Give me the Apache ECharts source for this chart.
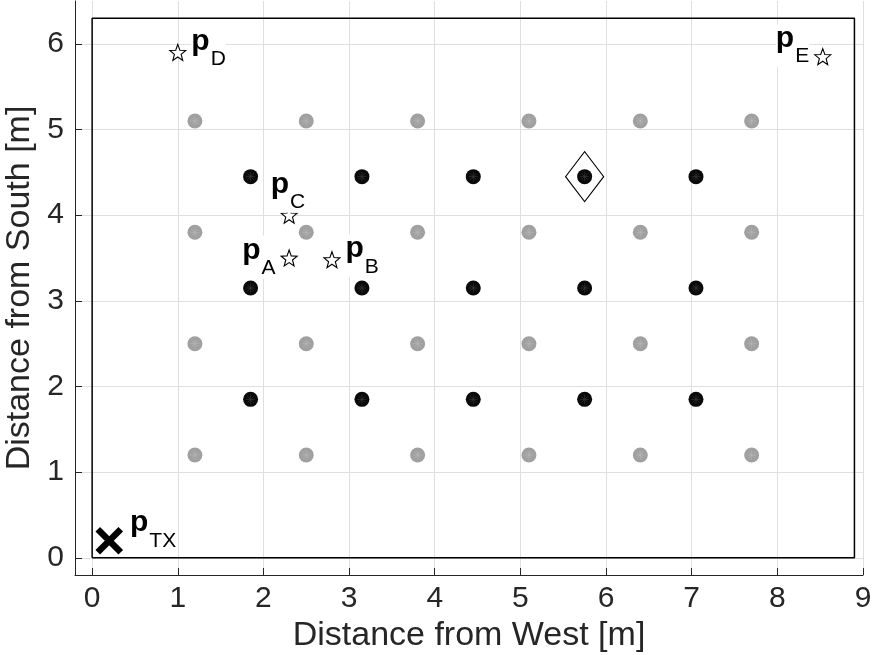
<!DOCTYPE html>
<html>
<head>
<meta charset="utf-8">
<title>Room layout</title>
<script src="https://cdn.jsdelivr.net/npm/echarts@6/dist/echarts.min.js"></script>
<style>
  html, body { margin: 0; padding: 0; background: #fff; }
  #chart { width: 872px; height: 655px; }
</style>
</head>
<body>
<div id="chart"></div>
<script>
// Axis ticks
const xTicks = [0, 1, 2, 3, 4, 5, 6, 7, 8, 9];
const yTicks = [0, 1, 2, 3, 4, 5, 6];

// Room outline size [m]
const roomWidth = 8.9;
const roomDepth = 6.3;

// Grey grid of positions
const greyX = [1.2, 2.5, 3.8, 5.1, 6.4, 7.7];
const greyY = [1.2, 2.5, 3.8, 5.1];

// Black grid of positions
const blackX = [1.85, 3.15, 4.45, 5.75, 7.05];
const blackY = [1.85, 3.15, 4.45];

// Highlighted position (diamond)
const selectedPos = [5.75, 4.45];

// Named test points p_A .. p_E
const pointNames = ['A', 'B', 'C', 'D', 'E'];
const pointX = [2.3, 2.8, 2.3, 1.0, 8.53];
const pointY = [3.5, 3.48, 4.0, 5.9, 5.85];

// Transmitter
const txName = 'TX';
const txPos = [0.2, 0.2];

// ---------------------------------------------------------------
const FONT = '"Liberation Sans", Arial, Helvetica, sans-serif';
const INK = '#262626';

function gridPoints(xs, ys) {
  const pts = [];
  ys.forEach(y => xs.forEach(x => pts.push([x, y])));
  return pts;
}

// five-pointed star outline
function starPath() {
  const pts = [];
  for (let i = 0; i < 10; i++) {
    const r = i % 2 === 0 ? 1 : 0.42;
    const a = -Math.PI / 2 + i * Math.PI / 5;
    pts.push((r * Math.cos(a)).toFixed(4) + ',' + (r * Math.sin(a)).toFixed(4));
  }
  return 'path://M' + pts.join('L') + 'Z';
}

const spokes = 'path://M0,-1L0,1M-1,0L1,0M-0.7,-0.7L0.7,0.7M-0.7,0.7L0.7,-0.7';

// label placement per point name
const labelPlacement = {
  A: { position: 'left', offset: [0, -1] },
  B: { position: 'right', offset: [0, -4] },
  C: { position: 'right', offset: [-32, -24] },
  D: { position: 'right', offset: [0, -4] },
  E: { position: 'left', offset: [0, -11] },
  TX: { position: 'right', offset: [1, -11] }
};

const richStyles = {
  p: { fontFamily: FONT, fontSize: 30, fontWeight: 'bold', color: '#000', lineHeight: 30, verticalAlign: 'top' },
  s: { fontFamily: FONT, fontSize: 21, color: '#000', lineHeight: 43, verticalAlign: 'bottom', padding: [0, 0, 0, 1] }
};

function pointLabel(name) {
  const pl = labelPlacement[name];
  return {
    show: true,
    position: pl.position,
    distance: 5,
    offset: pl.offset,
    formatter: '{p|p}{s|' + name + '}',
    backgroundColor: '#fff',
    color: '#000',
    rich: richStyles
  };
}

const namedPoints = pointNames.map((n, i) => ({
  name: n,
  value: [pointX[i], pointY[i]],
  label: pointLabel(n)
}));

const chart = echarts.init(document.getElementById('chart'), null, { renderer: 'canvas' });

chart.setOption({
  animation: false,
  backgroundColor: '#fff',
  grid: { left: 75, right: 9, top: 1, bottom: 80, containLabel: false, outerBoundsMode: 'none' },
  xAxis: {
    type: 'value',
    min: -0.2,
    max: 9.0,
    name: 'Distance from West [m]',
    nameLocation: 'middle',
    nameGap: 34,
    nameTextStyle: { fontFamily: FONT, fontSize: 34, color: INK },
    axisLine: { show: true, onZero: false, lineStyle: { color: INK, width: 1 } },
    axisTick: { show: true, inside: true, length: 7, customValues: xTicks, lineStyle: { color: INK, width: 1 } },
    axisLabel: { customValues: xTicks, fontFamily: FONT, fontSize: 30, color: INK, margin: 9 },
    splitLine: { show: true, lineStyle: { color: '#dfdfdf', width: 1 } }
  },
  yAxis: {
    type: 'value',
    min: -0.2,
    max: 6.5,
    name: 'Distance from South [m]',
    nameLocation: 'middle',
    nameGap: 37,
    nameTextStyle: { fontFamily: FONT, fontSize: 34, color: INK },
    axisLine: { show: true, onZero: false, lineStyle: { color: INK, width: 1 } },
    axisTick: { show: true, inside: true, length: 7, customValues: yTicks, lineStyle: { color: INK, width: 1 } },
    axisLabel: { customValues: yTicks, fontFamily: FONT, fontSize: 30, color: INK, margin: 11 },
    splitLine: { show: true, lineStyle: { color: '#dfdfdf', width: 1 } }
  },
  series: [
    {
      name: 'room',
      type: 'line',
      data: [[0, 0], [roomWidth, 0], [roomWidth, roomDepth], [0, roomDepth], [0, 0]],
      symbol: 'none',
      lineStyle: { color: '#000', width: 1.5 },
      z: 2
    },
    {
      name: 'grey',
      type: 'scatter',
      data: gridPoints(greyX, greyY),
      symbol: 'circle',
      symbolSize: 15,
      itemStyle: { color: '#a0a0a0', opacity: 1 },
      z: 3
    },
    {
      name: 'grey detail',
      type: 'scatter',
      data: gridPoints(greyX, greyY),
      symbol: spokes,
      symbolSize: 9,
      itemStyle: { color: 'none', borderColor: '#b8b8b8', borderWidth: 0.6, opacity: 1 },
      z: 3
    },
    {
      name: 'black',
      type: 'scatter',
      data: gridPoints(blackX, blackY),
      symbol: 'circle',
      symbolSize: 15,
      itemStyle: { color: '#0a0a0a', opacity: 1 },
      z: 3
    },
    {
      name: 'black detail',
      type: 'scatter',
      data: gridPoints(blackX, blackY),
      symbol: spokes,
      symbolSize: 9,
      itemStyle: { color: 'none', borderColor: '#3c3c3c', borderWidth: 0.6, opacity: 1 },
      z: 3
    },
    {
      name: 'selected',
      type: 'scatter',
      data: [selectedPos],
      symbol: 'diamond',
      symbolSize: [38, 50],
      itemStyle: { color: 'none', borderColor: '#000', borderWidth: 1.2, opacity: 1 },
      z: 4
    },
    {
      name: 'points',
      type: 'scatter',
      data: namedPoints,
      symbol: starPath(),
      symbolSize: 16,
      itemStyle: { color: '#fff', borderColor: '#000', borderWidth: 1.1, opacity: 1 },
      z: 5
    },
    {
      name: 'tx',
      type: 'scatter',
      data: [{ name: txName, value: txPos, label: pointLabel(txName) }],
      symbol: 'path://M0,0L10,10M10,0L0,10',
      symbolSize: 23,
      itemStyle: { color: 'none', borderColor: '#000', borderWidth: 6.5, opacity: 1 },
      z: 5
    }
  ]
});
</script>
</body>
</html>
